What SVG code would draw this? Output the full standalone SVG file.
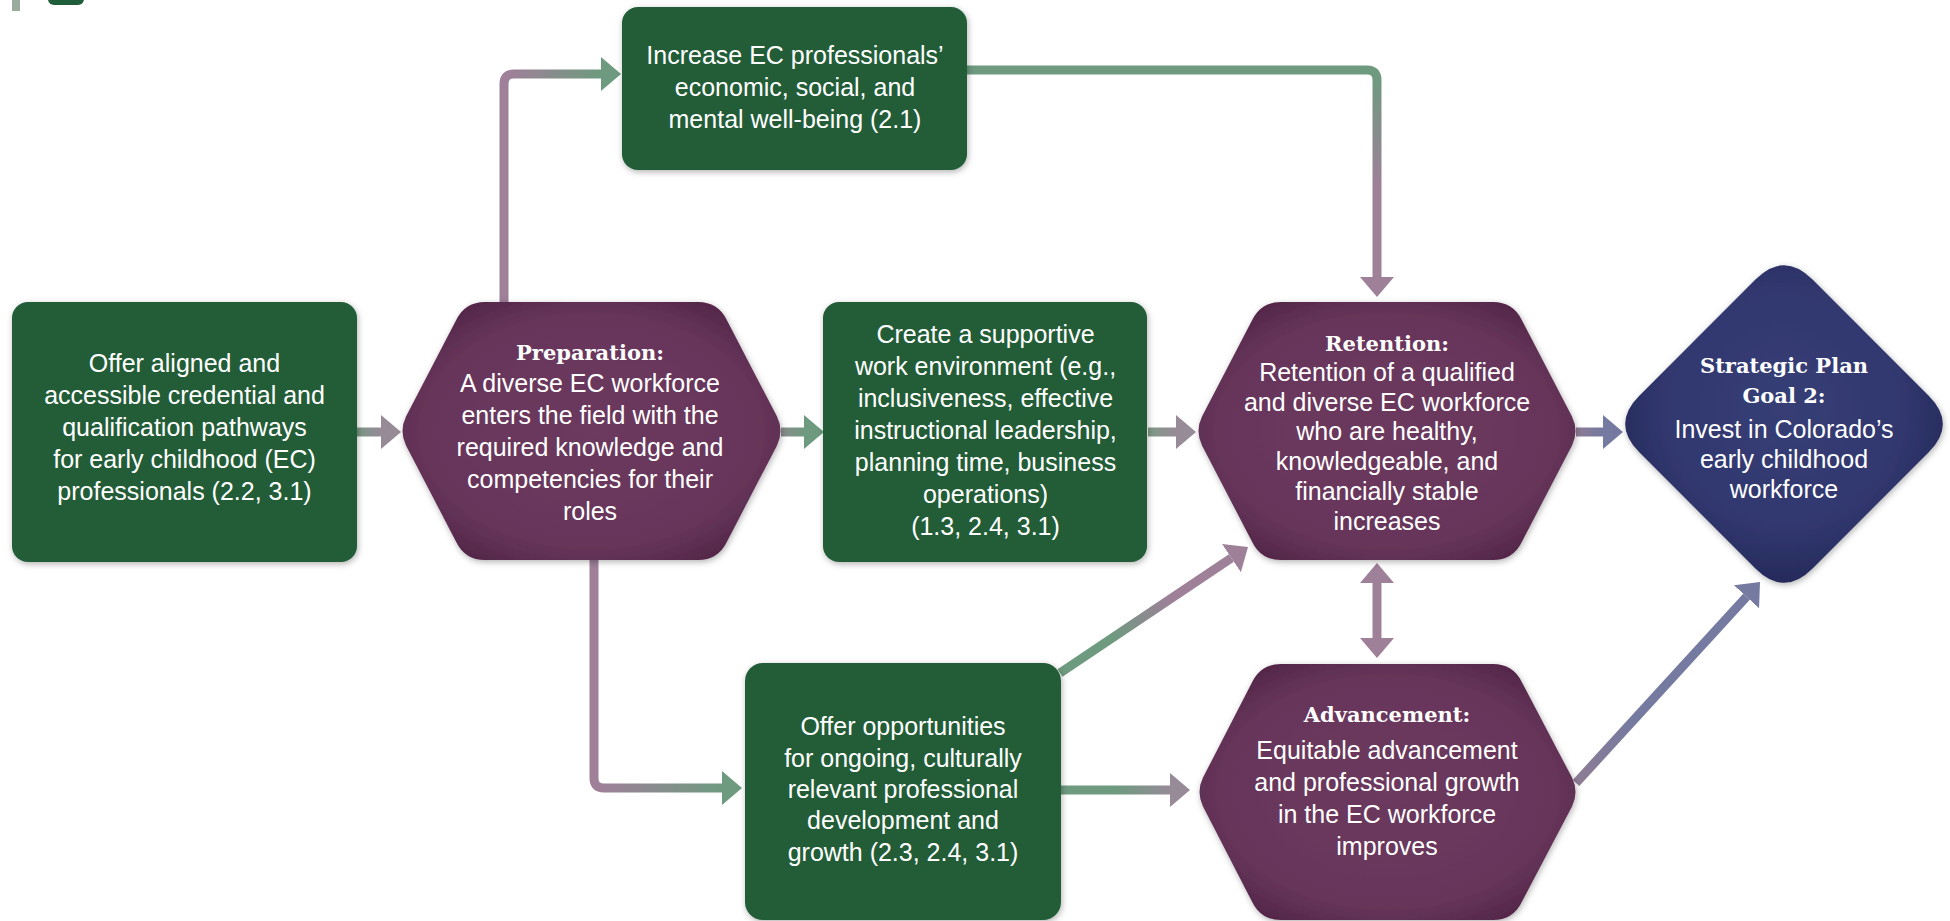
<svg xmlns="http://www.w3.org/2000/svg" width="1950" height="921" viewBox="0 0 1950 921">
<style>
.box{fill:#205d39;filter:url(#sh)}
.hex{fill:url(#hexfill);filter:url(#sh)}
.goal{fill:url(#goalfill);filter:url(#sh)}
.t{font-family:"Liberation Sans",Arial,sans-serif;font-size:25px;fill:#ffffff;text-anchor:middle}
.h{font-family:"DejaVu Serif","Liberation Serif",serif;font-size:21px;font-weight:bold;fill:#ffffff;text-anchor:middle}
.c{fill:none;stroke-width:9;stroke-linecap:butt;stroke-linejoin:round}
</style>
<defs>
<filter id="sh" x="-10%" y="-10%" width="120%" height="125%">
<feDropShadow dx="1" dy="2" stdDeviation="3" flood-color="#000" flood-opacity="0.3"/>
</filter>
<radialGradient id="hexfill" cx="0.5" cy="0.5" r="0.62">
<stop offset="0" stop-color="#6c3a5e"/>
<stop offset="0.72" stop-color="#67355a"/>
<stop offset="1" stop-color="#4e2344"/>
</radialGradient>
<radialGradient id="goalfill" cx="0.5" cy="0.45" r="0.55">
<stop offset="0" stop-color="#373e76"/>
<stop offset="0.7" stop-color="#31376e"/>
<stop offset="1" stop-color="#252a5a"/>
</radialGradient>
<marker id="mGreen" viewBox="0 0 20 34" refX="0" refY="17" markerWidth="20" markerHeight="34" markerUnits="userSpaceOnUse" orient="auto"><path d="M0,0 L20,17 L0,34 Z" fill="#6e9a7f"/></marker>
<marker id="mMauve" viewBox="0 0 20 34" refX="0" refY="17" markerWidth="20" markerHeight="34" markerUnits="userSpaceOnUse" orient="auto"><path d="M0,0 L20,17 L0,34 Z" fill="#968b97"/></marker>
<marker id="mPurple" viewBox="0 0 20 34" refX="0" refY="17" markerWidth="20" markerHeight="34" markerUnits="userSpaceOnUse" orient="auto-start-reverse"><path d="M0,0 L20,17 L0,34 Z" fill="#9e8099"/></marker>
<marker id="mBlue" viewBox="0 0 20 34" refX="0" refY="17" markerWidth="20" markerHeight="34" markerUnits="userSpaceOnUse" orient="auto"><path d="M0,0 L20,17 L0,34 Z" fill="#747aa0"/></marker>
<linearGradient id="g1" gradientUnits="userSpaceOnUse" x1="357" y1="0" x2="381" y2="0"><stop offset="0" stop-color="#7a9683"/><stop offset="1" stop-color="#968b97"/></linearGradient>
<linearGradient id="g2" gradientUnits="userSpaceOnUse" x1="510" y1="0" x2="600" y2="0"><stop offset="0" stop-color="#9e8099"/><stop offset="1" stop-color="#6e9a7f"/></linearGradient>
<linearGradient id="g3" gradientUnits="userSpaceOnUse" x1="781" y1="0" x2="804" y2="0"><stop offset="0" stop-color="#8a8a8c"/><stop offset="1" stop-color="#6e9a7f"/></linearGradient>
<linearGradient id="g4" gradientUnits="userSpaceOnUse" x1="1148" y1="0" x2="1175" y2="0"><stop offset="0" stop-color="#7f9a86"/><stop offset="1" stop-color="#968b97"/></linearGradient>
<linearGradient id="g5" gradientUnits="userSpaceOnUse" x1="0" y1="75" x2="0" y2="277"><stop offset="0" stop-color="#6e9a7f"/><stop offset="0.55" stop-color="#9e8099"/><stop offset="1" stop-color="#9e8099"/></linearGradient>
<linearGradient id="g6" gradientUnits="userSpaceOnUse" x1="1576" y1="0" x2="1603" y2="0"><stop offset="0" stop-color="#8e7c95"/><stop offset="1" stop-color="#747aa0"/></linearGradient>
<linearGradient id="g7" gradientUnits="userSpaceOnUse" x1="600" y1="0" x2="722" y2="0"><stop offset="0" stop-color="#9e8099"/><stop offset="1" stop-color="#6e9a7f"/></linearGradient>
<linearGradient id="g8" gradientUnits="userSpaceOnUse" x1="1061" y1="0" x2="1170" y2="0"><stop offset="0" stop-color="#6e9a7f"/><stop offset="0.5" stop-color="#6e9a7f"/><stop offset="1" stop-color="#968b97"/></linearGradient>
<linearGradient id="g9" gradientUnits="userSpaceOnUse" x1="1060" y1="673" x2="1231" y2="558"><stop offset="0" stop-color="#6e9a7f"/><stop offset="0.3" stop-color="#6e9a7f"/><stop offset="0.65" stop-color="#9e8099"/><stop offset="1" stop-color="#9e8099"/></linearGradient>
<linearGradient id="g11" gradientUnits="userSpaceOnUse" x1="1576" y1="783" x2="1746" y2="597"><stop offset="0" stop-color="#8e7c95"/><stop offset="0.35" stop-color="#747aa0"/><stop offset="1" stop-color="#747aa0"/></linearGradient>
</defs>
<rect width="1950" height="921" fill="#ffffff"/>
<g id="header-fragment">
<rect x="12" y="0" width="8" height="11" fill="#9aab9c"/>
<rect x="48" y="-12" width="36" height="17" rx="6" fill="#205d39"/>
</g>
<g id="connectors">
<path class="c" d="M357,432 H381" stroke="url(#g1)" marker-end="url(#mMauve)"/>
<path class="c" d="M504,302 V84 Q504,74 514,74 H601" stroke="url(#g2)" marker-end="url(#mGreen)"/>
<path class="c" d="M781,432 H804" stroke="url(#g3)" marker-end="url(#mGreen)"/>
<path class="c" d="M1148,432 H1176" stroke="url(#g4)" marker-end="url(#mMauve)"/>
<path class="c" d="M967,70 H1367 Q1377,70 1377,80 V277" stroke="url(#g5)" marker-end="url(#mPurple)"/>
<path class="c" d="M1576,432 H1603" stroke="url(#g6)" marker-end="url(#mBlue)"/>
<path class="c" d="M594,560 V778 Q594,788 604,788 H722" stroke="url(#g7)" marker-end="url(#mGreen)"/>
<path class="c" d="M1061,790 H1170" stroke="url(#g8)" marker-end="url(#mMauve)"/>
<path class="c" d="M1060,673 L1231.4,558.1" stroke="url(#g9)" marker-end="url(#mPurple)"/>
<path class="c" d="M1377,583 V638" stroke="#9e8099" marker-start="url(#mPurple)" marker-end="url(#mPurple)"/>
<path class="c" d="M1576,783 L1746.5,596.8" stroke="url(#g11)" marker-end="url(#mBlue)"/>
</g>
<g id="node-credential">
<rect class="box" x="12" y="302" width="345" height="260" rx="16"/>
<text class="t"><tspan x="184.5" y="372">Offer aligned and</tspan><tspan x="184.5" y="404">accessible credential and</tspan><tspan x="184.5" y="436">qualification pathways</tspan><tspan x="184.5" y="468">for early childhood (EC)</tspan><tspan x="184.5" y="500">professionals (2.2, 3.1)</tspan></text>
</g>
<g id="node-preparation">
<path class="hex" d="M406,416.6 L456.2,320 Q465,302 485,302 L698,302 Q718,302 726.8,320 L777,416.6 Q784,431 777,445.4 L726.8,542 Q718,560 698,560 L485,560 Q465,560 456.2,542 L406,445.4 Q399,431 406,416.6 Z"/>
<text class="h" x="590" y="360">Preparation:</text>
<text class="t"><tspan x="590" y="392">A diverse EC workforce</tspan><tspan x="590" y="424">enters the field with the</tspan><tspan x="590" y="456">required knowledge and</tspan><tspan x="590" y="488">competencies for their</tspan><tspan x="590" y="520">roles</tspan></text>
</g>
<g id="node-wellbeing">
<rect class="box" x="622" y="7" width="345" height="163" rx="16"/>
<text class="t"><tspan x="795" y="64">Increase EC professionals’</tspan><tspan x="795" y="96">economic, social, and</tspan><tspan x="795" y="128">mental well-being (2.1)</tspan></text>
</g>
<g id="node-environment">
<rect class="box" x="823" y="302" width="324" height="260" rx="16"/>
<text class="t"><tspan x="985.5" y="343">Create a supportive</tspan><tspan x="985.5" y="375">work environment (e.g.,</tspan><tspan x="985.5" y="407">inclusiveness, effective</tspan><tspan x="985.5" y="439">instructional leadership,</tspan><tspan x="985.5" y="471">planning time, business</tspan><tspan x="985.5" y="503">operations)</tspan><tspan x="985.5" y="535">(1.3, 2.4, 3.1)</tspan></text>
</g>
<g id="node-retention">
<path class="hex" d="M1202,416.6 L1252.2,320 Q1261,302 1281,302 L1493,302 Q1513,302 1521.8,320 L1572,416.6 Q1579,431 1572,445.4 L1521.8,542 Q1513,560 1493,560 L1281,560 Q1261,560 1252.2,542 L1202,445.4 Q1195,431 1202,416.6 Z"/>
<text class="h" x="1387" y="351">Retention:</text>
<text class="t"><tspan x="1387" y="381">Retention of a qualified</tspan><tspan x="1387" y="411">and diverse EC workforce</tspan><tspan x="1387" y="440">who are healthy,</tspan><tspan x="1387" y="470">knowledgeable, and</tspan><tspan x="1387" y="500">financially stable</tspan><tspan x="1387" y="530">increases</tspan></text>
</g>
<g id="node-development">
<rect class="box" x="745" y="663" width="316" height="257" rx="18"/>
<text class="t"><tspan x="903" y="735">Offer opportunities</tspan><tspan x="903" y="767">for ongoing, culturally</tspan><tspan x="903" y="798">relevant professional</tspan><tspan x="903" y="829">development and</tspan><tspan x="903" y="861">growth (2.3, 2.4, 3.1)</tspan></text>
</g>
<g id="node-advancement">
<path class="hex" d="M1203,777.6 L1252.2,682 Q1261,664 1281,664 L1493,664 Q1513,664 1521.8,682 L1572,777.6 Q1579,792 1572,806.4 L1521.8,902 Q1513,920 1493,920 L1281,920 Q1261,920 1252.2,902 L1203,806.4 Q1196,792 1203,777.6 Z"/>
<text class="h" x="1387" y="722">Advancement:</text>
<text class="t"><tspan x="1387" y="759">Equitable advancement</tspan><tspan x="1387" y="791">and professional growth</tspan><tspan x="1387" y="823">in the EC workforce</tspan><tspan x="1387" y="855">improves</tspan></text>
</g>
<g id="node-goal">
<path class="goal" d="M1755.7,279.3 Q1784,251 1812.3,279.3 L1928.7,395.7 Q1957,424 1928.7,452.3 L1812.3,568.7 Q1784,597 1755.7,568.7 L1639.3,452.3 Q1611,424 1639.3,395.7 Z"/>
<text class="h"><tspan x="1784" y="373">Strategic Plan</tspan><tspan x="1784" y="403">Goal 2:</tspan></text>
<text class="t"><tspan x="1784" y="438">Invest in Colorado’s</tspan><tspan x="1784" y="468">early childhood</tspan><tspan x="1784" y="498">workforce</tspan></text>
</g>
</svg>
